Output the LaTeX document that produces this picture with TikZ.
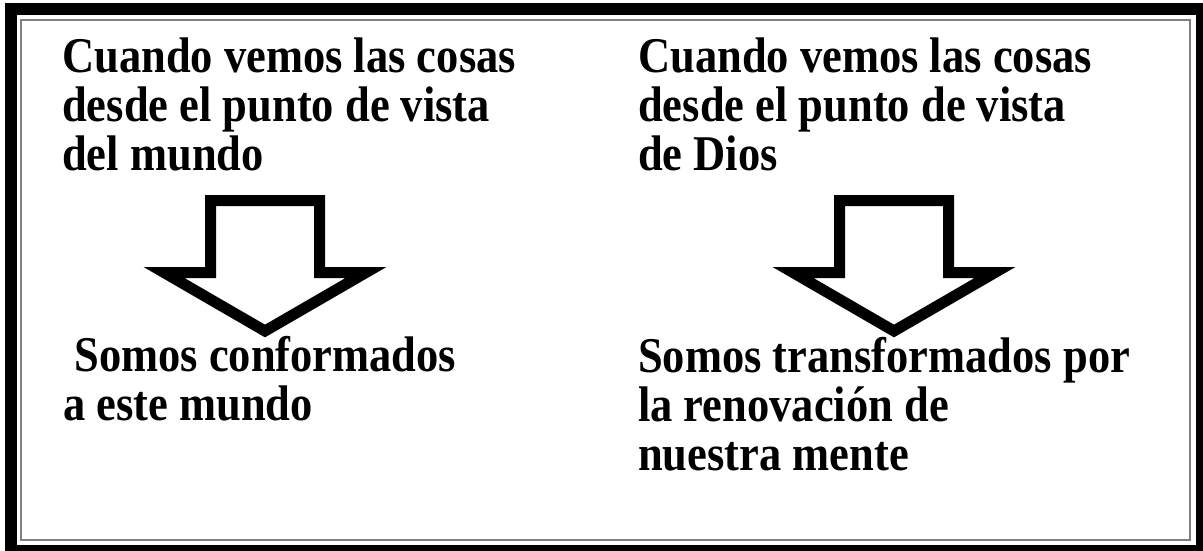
\documentclass[tikz,border=0pt]{standalone}
\usepackage{fontspec}
\setmainfont{Liberation Serif}[FakeStretch=0.89]
\usetikzlibrary{positioning}
\tikzset{
	outerframe/.style={draw=black, line width=12pt},
	innerframe/.style={draw=black!50, line width=1.5pt},
	blockarrow/.style={draw=black, line width=11pt, line join=miter, fill=white},
	txt/.style={anchor=base west, inner sep=0pt, align=left, font=\bfseries\fontsize{50}{49}\selectfont},
}

\begin{document}
\begin{tikzpicture}[x=1pt, y=-1pt]
	\useasboundingbox (0,0) rectangle (1203,551);
	% frame
	\draw[outerframe] (11,9.5) rectangle (1202,550.5);
	\draw[innerframe] (21,20) rectangle (1190,540);
	% top texts (base = last line)
	\node[txt] (mundo) at (62,170) {Cuando vemos las cosas\\desde el punto de vista\\del mundo};
	\node[txt] (dios) at (638,170) {Cuando vemos las cosas\\desde el punto de vista\\de Dios};
	% hollow arrows
	\foreach \cx/\nm in {265/left, 894/right}
		\draw[blockarrow, shift={(\cx,0)}] (-101,272.5) -- (-54.5,272.5) -- (-54.5,200.5) -- (54.5,200.5)
			-- (54.5,272.5) -- (101,272.5) -- (0,331) -- cycle;
	% bottom texts
	\node[txt] (conf) at (63,420) {\ Somos conformados\\a este mundo};
	\node[txt] (trans) at (638,470) {Somos transformados por\\la renovación de\\nuestra mente};
\end{tikzpicture}
\end{document}
